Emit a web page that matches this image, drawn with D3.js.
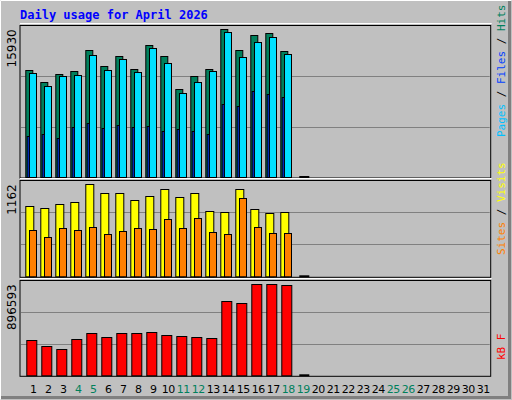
<!DOCTYPE html><html><head><meta charset="utf-8">
<script src="https://cdn.jsdelivr.net/npm/d3@7/dist/d3.min.js"></script>
<style>body{margin:0;background:#fff}</style></head><body><svg id="c" width="512" height="400"></svg>
<script>
const days = d3.range(1, 32);
const weekend = [4,5,11,12,18,19,25,26];
const hits  = [11508,10213,11076,11433,13665,11939,13018,11616,14204,13018,9459,10861,11616,15930,13665,15283,15499,13557,0];
const files = [11184,9782,10861,10969,13126,11508,12694,11292,13881,12263,9027,10213,11400,15606,12910,14528,15067,13234,0];
const pages = [4389,4605,4174,5360,5792,5252,5576,5360,5468,4929,5144,4929,4605,7841,7625,9243,8919,8596,0];
const visits= [884,859,909,935,1162,1048,1048,960,1010,1099,998,1048,821,808,1099,846,796,808,0];
const sites = [581,493,606,581,619,530,568,606,594,720,606,733,556,530,985,619,543,543,0];
const kbytes= [344843,285728,256170,354696,413810,374400,413810,413810,423663,394107,384254,374400,364548,729100,709394,896593,896593,886740,0];

const svg = d3.select("#c");
const font = "'DejaVu Sans Mono', monospace";
svg.append("rect").attr("width",512).attr("height",400).attr("fill","#c0c0c0");
svg.append("path").attr("d","M0.5,399.5V0.5H511.5").attr("stroke","#fff").attr("fill","none");
svg.append("path").attr("d","M1,397.5H509.5V1").attr("stroke","#808080").attr("stroke-width",3).attr("fill","none");
svg.append("text").attr("x",20).attr("y",19).attr("font-family",font).attr("font-weight","bold")
  .attr("font-size",12).attr("fill","#0000ff").text("Daily usage for April 2026");

const x = d3.scaleLinear().domain([1,31]).range([25.3,475.3]);
const L=20, R=490.7;

function panel(top, base, max, maxH) {
  const y = d3.scaleLinear().domain([0, max*(base-top)/maxH]).range([base, top]);
  svg.append("rect").attr("x",L).attr("y",top).attr("width",R-L).attr("height",base-top+1)
    .attr("fill","#c0c0c0").attr("stroke","#000");
  [1/3,2/3].forEach(f=>{const gy=Math.round(top+(base-top)*f)+0.5;
    svg.append("line").attr("x1",L+1).attr("x2",R-1).attr("y1",gy).attr("y2",gy).attr("stroke","#808080");});
  svg.append("text").attr("transform",`translate(${L-4},${y(max)}) rotate(-90)`).attr("text-anchor","end")
    .attr("font-family","'DejaVu Sans', sans-serif").attr("font-size",12).attr("fill","#000").text(max);
  svg.append("path").attr("d",`M${L},${top-2}H${R+1}`).attr("stroke","#fff");
  return y;
}
function bars(vals, y, dx, w, fill){
  svg.append("g").selectAll("rect").data(vals.slice(0,18)).join("rect")
    .attr("x",(d,i)=>x(i+1)+dx+0.5).attr("y",d=>Math.round(y(d))+0.5)
    .attr("width",w).attr("height",d=>y(0)-Math.round(y(d)))
    .attr("fill",fill).attr("stroke","#000");
}
function zeroMark(y){ svg.append("rect").attr("x",x(19)+4).attr("y",y(0)-1).attr("width",10).attr("height",2).attr("fill","#000"); }

const y1 = panel(25.5, 177, 15930, 147.7);
bars(hits, y1, 0, 7, "#00805c");
bars(files, y1, 3.7, 7, "#00e0ff");
bars(pages, y1, 1.4, 2, "#0040ff");
zeroMark(y1);

const y2 = panel(180.5, 276.3, 1162, 92);
bars(visits, y2, 0, 8, "#ffff00");
bars(sites, y2, 3.7, 7, "#ff8000");
zeroMark(y2);

const y3 = panel(280.5, 375.3, 896593, 91);
bars(kbytes, y3, 1, 10, "#ff0000");
zeroMark(y3);

svg.append("g").selectAll("text").data(days).join("text")
  .attr("x",d=>x(d)+8).attr("y",393).attr("text-anchor","middle")
  .attr("font-family","'DejaVu Sans', sans-serif").attr("font-size",11).attr("letter-spacing",-0.5)
  .attr("fill",d=>weekend.includes(d)?"#00805c":"#000").text(d=>d);

function legend(yb, parts){
  const t = svg.append("text").attr("transform",`translate(505,${yb}) rotate(-90)`)
    .attr("font-family",font).attr("font-size",11);
  parts.forEach(([s,c])=>t.append("tspan").attr("fill",c).text(s));
}
legend(137, [["Pages","#00c0ff"],[" / ","#000"],["Files","#0040ff"],[" / ","#000"],["Hits","#00805c"]]);
legend(255, [["Sites","#ff8000"],[" / ","#000"],["Visits","#ffff00"]]);
legend(360, [["kB F","#ff0000"]]);
</script></body></html>
